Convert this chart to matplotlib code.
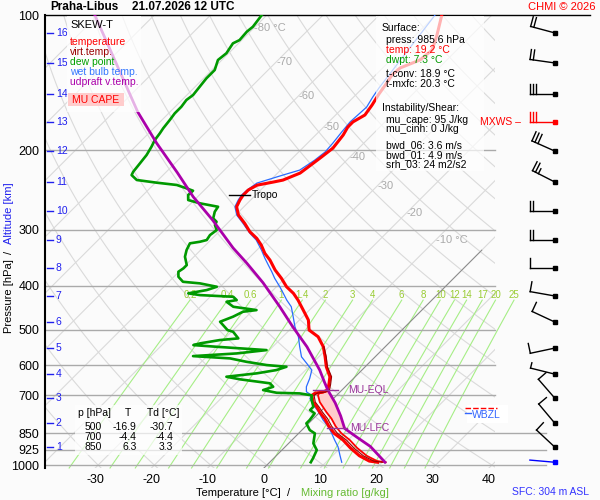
import numpy as np
import matplotlib
matplotlib.use("Agg")
import matplotlib.pyplot as plt
from matplotlib.patches import Rectangle, Polygon
from matplotlib.ticker import NullLocator

plt.rcParams["font.family"] = ["Liberation Sans", "DejaVu Sans"]
plt.rcParams["axes.unicode_minus"] = False

# ---- sounding (hPa, deg C) ----
t_p = [100.0, 110.8, 119.6, 125.9, 131.1, 135.9, 143.0, 150.3, 158.5, 166.8,
       172.8, 177.4, 184.8, 197.6, 207.7, 218.8, 224.5, 232.7, 235.1, 238.8,
       244.9, 251.3, 257.8, 266.7, 278.3, 290.4, 303.1, 313.5, 324.5, 338.5,
       350.3, 368.7, 384.7, 401.6, 415.4, 429.9, 452.4, 476.2, 501.2, 518.7,
       545.9, 574.6, 604.9, 636.4, 662.1, 681.3, 688.3, 691.8, 700.0, 724.4,
       743.5, 763.1, 788.1, 819.6, 850.0, 879.9, 916.0, 953.6, 979.8, 985.6]
t_c = [-48.9, -46.2, -44.4, -44.8, -46.9, -47.1, -46.5, -46.0, -45.3, -44.8,
       -45.7, -45.7, -45.1, -44.6, -45.1, -45.7, -46.0, -47.8, -49.2, -51.5,
       -52.2, -52.2, -51.9, -51.3, -49.5, -46.9, -44.5, -42.1, -40.1, -38.0,
       -35.9, -33.2, -30.6, -28.2, -25.8, -23.8, -21.1, -18.4, -16.5, -13.7,
       -11.0, -8.9, -6.9, -4.5, -3.3, -2.6, -3.0, -4.2, -4.4, -3.0,
       -1.4, 0.0, 2.0, 4.1, 6.3, 9.1, 11.8, 14.8, 17.5, 19.2]

tv_p = [545.9, 574.6, 604.9, 636.4, 662.1, 681.3, 688.3, 691.8, 700.0, 724.4,
        743.5, 763.1, 788.1, 819.6, 850.0, 879.9, 916.0, 953.6, 979.8, 985.6]
tv_c = [-10.9, -8.7, -6.7, -4.2, -3.0, -2.2, -2.6, -3.8, -4.0, -2.6,
        -1.0, 0.5, 2.5, 4.6, 6.9, 9.7, 12.4, 15.5, 18.3, 20.0]

# red edge of the MU parcel area
ol_p = [985.6, 979.8, 953.6, 916.0, 879.9, 850.0, 819.6, 788.1, 763.1, 743.5,
        724.4, 700.0, 693.0, 684.0]
ol_c = [20.6, 18.9, 16.1, 13.0, 10.3, 7.6, 5.3, 3.2, 1.2, -0.3,
        -1.8, -3.3, -3.5, -2.2]

td_p = [100.0, 106.2, 108.9, 113.7, 115.6, 121.6, 125.9, 132.5, 138.2, 144.3,
        150.6, 154.5, 159.9, 165.4, 171.1, 178.5, 183.2, 189.6, 196.2, 204.7,
        213.6, 223.0, 226.8, 232.6, 235.8, 238.6, 242.7, 245.7, 251.2, 257.7,
        262.1, 266.7, 273.6, 283.0, 288.0, 292.9, 300.5, 308.3, 316.2, 319.0,
        321.6, 332.8, 344.4, 359.4, 365.5, 371.9, 381.6, 391.5, 394.7, 401.6,
        408.4, 415.4, 419.1, 422.7, 429.9, 433.7, 444.9, 452.5, 456.3, 468.1,
        480.3, 501.2, 505.6, 523.0, 527.5, 536.5, 541.2, 545.9, 555.3, 564.8,
        572.6, 579.4, 589.5, 599.5, 604.7, 615.0, 625.4, 636.4, 644.9, 658.1,
        669.9, 681.3, 690.8, 693.0, 700.0, 717.1, 742.0, 754.7, 767.5, 794.3,
        807.8, 836.0, 850.4, 894.8, 926.1, 966.2, 985.6]
td_c = [-80.9, -80.4, -80.6, -80.4, -81.0, -80.4, -80.7, -79.5, -79.5, -79.2,
        -78.9, -79.2, -78.9, -78.9, -78.6, -78.3, -78.0, -77.7, -77.1, -76.5,
        -76.2, -75.9, -75.6, -73.8, -69.8, -65.8, -63.5, -61.9, -62.0, -61.1,
        -58.4, -54.6, -54.3, -53.4, -52.2, -51.9, -50.7, -51.0, -50.7, -51.6,
        -53.1, -52.5, -51.6, -49.8, -49.8, -50.1, -49.2, -47.5, -44.2, -40.6,
        -41.8, -44.5, -42.1, -35.9, -34.7, -36.2, -34.1, -29.4, -31.5, -32.4,
        -33.8, -31.0, -29.7, -27.6, -30.6, -33.5, -34.4, -30.0, -20.5, -25.2,
        -32.5, -25.5, -22.0, -17.8, -14.0, -15.2, -18.1, -22.9, -20.0, -14.0,
        -12.8, -14.0, -11.1, -6.9, -4.4, -3.6, -2.1, -2.1, -0.7, -0.4,
        -0.4, 1.4, 2.9, 4.4, 6.2, 7.0, 7.3]

tw_p = [100.0, 145.3, 152.1, 160.2, 172.8, 182.0, 192.7, 201.6, 210.1, 221.1,
        226.8, 236.3, 244.9, 251.3, 257.8, 266.7, 278.3, 290.4, 305.6, 316.2,
        332.8, 347.2, 359.4, 371.9, 384.7, 401.6, 415.4, 429.9, 444.9, 468.1,
        492.8, 518.7, 545.9, 574.6, 594.3, 615.0, 641.7, 669.9, 687.3, 700.0,
        710.9, 735.6, 761.3, 794.3, 821.6, 850.4, 879.9, 910.7, 950.1, 985.6]
tw_c = [-50.1, -47.1, -46.6, -45.9, -46.2, -45.9, -45.5, -45.3, -45.7, -46.6,
        -48.7, -51.9, -52.4, -52.5, -52.2, -51.6, -49.8, -47.2, -44.2, -41.9,
        -39.2, -37.1, -35.3, -33.5, -31.8, -29.4, -27.6, -25.8, -23.8, -21.7,
        -19.6, -17.2, -15.2, -13.1, -11.0, -8.9, -7.8, -6.9, -6.0, -4.4,
        -4.2, -2.4, -0.3, 2.0, 4.1, 5.9, 7.6, 9.4, 11.2, 12.8]

pc_p = [100.0, 164.3, 192.7, 224.0, 253.4, 285.5, 329.3, 355.7, 393.4, 445.2,
        493.6, 546.0, 615.0, 657.0, 681.3, 727.6, 778.0, 829.0, 866.6, 909.3, 985.6]
pc_c = [-110.6, -85.7, -76.8, -67.9, -60.8, -53.2, -44.6, -39.5, -33.1, -25.8,
        -19.9, -13.9, -7.5, -4.3, -2.5, 1.1, 4.4, 7.3, 11.0, 15.1, 20.5]

eql_p, eql_t = 681.3, -2.5
lfc_p, lfc_t = 829.0, 7.3
trop_p, trop_t = 251.3, -52.2
fzl_p, wbzl_p = 748.3, 767.5

alt_km = list(range(1, 17))
alt_p = [912, 807, 710, 628, 549.6, 481, 421, 365, 316, 272.5,
         235, 200.6, 172.8, 149.8, 127.8, 109.6]

# wind: surface first, then every km
wind_p = [985.6] + alt_p
wind_dir = [275, 313, 320, 319, 284, 258, 295, 280, 270, 270, 270,
            297, 294, 270, 270, 278, 285]
wind_kt = [2, 10, 10, 10, 5, 10, 10, 10, 10, 20, 20, 25, 30, 30, 30, 20, 20]
mxws_km = 13

p_ticks = [100, 200, 300, 400, 500, 600, 700, 850, 925, 1000]
t_ticks = [-30, -20, -10, 0, 10, 20, 30, 40]
mix_w = [0.2, 0.4, 0.6, 1, 1.4, 2, 3, 4, 6, 8, 10, 12, 14, 17, 20, 25]
mix_lab = ["0.2", "0.4", "0.6", "1", "1.4", "2", "3", "4", "6", "8",
           "10", "12", "14", "17", "20", "25"]
iso_lab_t = [-80, -70, -60, -50, -40, -30, -20, -10]
iso_lab_p = [106.9, 127.2, 151.4, 177.4, 206.7, 239.8, 275.6, 316.2]

SKEW = 80.0
P_BOT, P_TOP = 1015.0, 100.0
X_MIN, X_MAX = -38.93, 41.07
BG = "#fbfbfb"
RED, DRED, GREEN, BLUE, PURP = "#ff0000", "#990000", "#009900", "#2a6cff", "#aa00aa"
MARK = "#993399"


def skx(t, p):
    return np.asarray(t, float) + SKEW * np.log10(P_BOT / np.asarray(p, float))


fig = plt.figure(figsize=(6, 5), dpi=100, facecolor=BG)
ax = fig.add_axes([45 / 600, 1 - 468 / 500, 450 / 600, 453 / 500])
ax.set_facecolor(BG)
ax.set_yscale("log")
ax.set_ylim(P_BOT, P_TOP)
ax.set_xlim(X_MIN, X_MAX)
for s in ("top", "right", "bottom"):
    ax.spines[s].set_visible(False)
ax.spines["left"].set_linewidth(1.5)
ax.set_yticks(p_ticks)
ax.set_yticklabels([str(p) for p in p_ticks])
ax.yaxis.set_minor_locator(NullLocator())
ax.set_xticks(t_ticks)
ax.set_xticklabels([str(t) for t in t_ticks])
ax.tick_params(length=0, labelsize=9, pad=4)

# background grid: isotherms, dry adiabats, mixing ratio
pp = np.logspace(np.log10(P_BOT), np.log10(P_TOP), 80)
for t in range(-130, 50, 10):
    ax.plot(skx([t, t], [P_BOT, P_TOP]), [P_BOT, P_TOP], color="#dadada", lw=0.8, zorder=1)
for th in range(-40, 200, 10):
    ta = (th + 273.15) * (pp / 1000.0) ** 0.2857 - 273.15
    ax.plot(skx(ta, pp), pp, color="#dadada", lw=0.8, zorder=1)
pm = np.logspace(np.log10(P_BOT), np.log10(430), 30)
for w, lab in zip(mix_w, mix_lab):
    e = w * pm / (622.0 + w)
    a = np.log(e / 6.112)
    td = 243.5 * a / (17.67 - a)
    ax.plot(skx(td, pm), pm, color="#a6ee86", lw=0.8, zorder=1, clip_on=False)
    ax.text(skx(td[-1], 430), 419, lab, color="#99cc33", fontsize=7,
            ha="center", va="center", zorder=2)

for p in p_ticks[1:]:
    xe = 50.1 if p >= 850 else X_MAX
    ax.plot([X_MIN, xe], [p, p], color="#aaaaaa", lw=1, zorder=2, clip_on=False)
ax.plot([X_MIN, 57.96], [P_TOP, P_TOP], color="black", lw=1, zorder=2, clip_on=False)
ax.plot(skx([0, 0], [P_BOT, 333]), [P_BOT, 333], color="#888888", lw=0.7, zorder=2)

for t, p in zip(iso_lab_t, iso_lab_p):
    lab = f"{t} °C" if t in (-80, -10) else str(t)
    ax.text(skx(t, p), p, lab, color="#aaaaaa", fontsize=8, ha="left", va="center", zorder=2)

# MU CAPE area between parcel and environment edge
pc_pa, pc_ca = np.array(pc_p), np.array(pc_c)
ol_pa, ol_ca = np.array(ol_p), np.array(ol_c)
m1 = (pc_pa >= eql_p) & (pc_pa <= lfc_p)
m2 = (ol_pa >= eql_p) & (ol_pa <= lfc_p)
verts = np.vstack([np.column_stack([skx(pc_ca[m1], pc_pa[m1]), pc_pa[m1]]),
                   np.column_stack([skx(ol_ca[m2], ol_pa[m2]), ol_pa[m2]])])
ax.add_patch(Polygon(verts, closed=True, facecolor="#ffcccc", edgecolor="none", zorder=3))

# profiles
ax.plot(skx(tw_c, tw_p), tw_p, color=BLUE, lw=0.9, zorder=4)
ax.plot(skx(ol_c, ol_p), ol_p, color=RED, lw=1.3, zorder=5)
ax.plot(skx(t_c, t_p), t_p, color=RED, lw=2.2, zorder=5)
ax.plot(skx(tv_c, tv_p), tv_p, color=DRED, lw=0.8, zorder=6)
ax.plot(skx(td_c, td_p), td_p, color=GREEN, lw=1.9, zorder=5)
ax.plot(skx(pc_c, pc_p), pc_p, color=PURP, lw=2.0, zorder=5)

# level markers
xe = skx(eql_t, eql_p)
ax.plot([xe - 2.7, xe + 1.8], [eql_p, eql_p], color=MARK, lw=1, zorder=6)
ax.text(xe + 3.6, eql_p, "MU-EQL", color=MARK, fontsize=7.5, va="center", zorder=6)
xl = skx(lfc_t, lfc_p)
ax.plot([xl - 3.1, xl + 0.4], [lfc_p, lfc_p], color=MARK, lw=1, zorder=6)
ax.text(xl + 1.0, lfc_p, "MU-LFC", color=MARK, fontsize=7.5, va="center", zorder=6)
xt = skx(trop_t, trop_p)
ax.plot([xt - 2.5, xt + 1.2], [trop_p, trop_p], color="black", lw=1, zorder=6)
ax.text(xt + 1.5, trop_p, "Tropo", color="black", fontsize=7.5, va="center", zorder=6)

# altitude scale
ytr = ax.get_yaxis_transform()
for km, p in zip(alt_km, alt_p):
    ax.plot([0.004, 0.018], [p, p], color="#2020ee", lw=1, transform=ytr, zorder=6)
    ax.text(0.024, p, str(km), color="#2020ee", fontsize=7.5, transform=ytr,
            ha="left", va="center", zorder=6)

# overlay in pixel units (y down) for boxes, texts and barbs
ov = fig.add_axes([0, 0, 1, 1])
ov.set_xlim(0, 600)
ov.set_ylim(500, 0)
ov.axis("off")


def px_of(x, p):
    xd, yd = ax.transData.transform((x, p))
    return xd, 500 - yd


for x0, y0, w, h in [(67, 16, 74, 96), (376, 16, 108, 155), (75, 405, 107, 50)]:
    ov.add_patch(Rectangle((x0, y0), w, h, facecolor="white", edgecolor="none", alpha=0.7))

fs = 7.5
ov.text(50, 7, "Praha-Libus", fontsize=8.5, fontweight="bold", va="center")
ov.text(132, 7, "21.07.2026 12 UTC", fontsize=8.5, fontweight="bold", va="center")
ov.text(596, 7, "CHMI © 2026", fontsize=8, color=RED, ha="right", va="center")

ov.text(70, 25, "SKEW-T", fontsize=8, va="center")
for y, s, c in [(42, "temperature", RED), (52, "virt.temp.", DRED), (62, "dew point", "#00a000"),
                (72, "wet bulb temp.", "#3377ff"), (82, "udpraft v.temp.", PURP)]:
    ov.text(70, y, s, fontsize=fs, color=c, va="center")
ov.add_patch(Rectangle((68, 93), 56, 13, facecolor="#ffcccc", edgecolor="none"))
ov.text(96, 100, "MU CAPE", fontsize=fs, color=RED, ha="center", va="center")

info = [(382, 27.7, "Surface:", "black"), (386, 40, "press: 985.6 hPa", "black"),
        (386, 50, "temp: 19.2 °C", RED), (386, 60, "dwpt: 7.3 °C", GREEN),
        (386, 74.3, "t-conv: 18.9 °C", "black"), (386, 84.3, "t-mxfc: 20.3 °C", "black"),
        (382, 108.3, "Instability/Shear:", "black"), (386, 120, "mu_cape: 95 J/kg", "black"),
        (386, 129.3, "mu_cinh: 0 J/kg", "black"), (386, 145, "bwd_06: 3.6 m/s", "black"),
        (386, 155, "bwd_01: 4.9 m/s", "black"), (386, 164.3, "srh_03: 24 m2/s2", "black")]
for x, y, s, c in info:
    ov.text(x, y, s, fontsize=fs, color=c, va="center")

ov.text(78, 413.3, "p [hPa]", fontsize=fs, va="center")
ov.text(127.7, 413.3, "T", fontsize=fs, ha="center", va="center")
ov.text(146.7, 413.3, "Td [°C]", fontsize=fs, va="center")
for y, row in zip([426.7, 436.7, 446.7], [("500", "-16.9", "-30.7"), ("700", "-4.4", "-4.4"),
                                          ("850", "6.3", "3.3")]):
    for x, s in zip([101.7, 136.7, 173.3], row):
        ov.text(x, y, s, fontsize=fs, ha="right", va="center")

ov.text(9, 213, "Altitude [km]", fontsize=8, color="#2020ee", rotation=90, ha="center", va="center")
ov.text(9, 252, "/", fontsize=8, rotation=90, ha="center", va="center")
ov.text(9, 296, "Pressure [hPa]", fontsize=8, rotation=90, ha="center", va="center")
ov.text(238, 493, "Temperature [°C]", fontsize=8, ha="center", va="center")
ov.text(289, 493, "/", fontsize=8, ha="center", va="center")
ov.text(345, 493, "Mixing ratio [g/kg]", fontsize=8, color="#66bb33", ha="center", va="center")
ov.text(551, 492, "SFC: 304 m ASL", fontsize=fs, color="#3333ff", ha="center", va="center")

# freezing / wet-bulb zero levels
_, yf = px_of(0, fzl_p)
_, yw = px_of(0, wbzl_p)
ov.add_patch(Rectangle((467, 405), 41, 18, facecolor="white", edgecolor="none"))
ov.plot([465, 497], [yf, yf], color=RED, lw=1, ls=(0, (4, 1.5)))
ov.plot([465, 471], [yw, yw], color="#3366ff", lw=1)
ov.text(472, yw + 1.5, "WBZL", fontsize=fs, color="#3366ff", va="center")

# wind barbs
STAFF, GAP, FULL, HALF = 25.0, 3.3, 10.0, 5.5
BARB_X = 51.7


def barb(x0, y0, wdir, spd, color):
    r = np.deg2rad(wdir)
    sx, sy = np.sin(r), -np.cos(r)
    bx, by = np.cos(r), np.sin(r)
    ex, ey = x0 + STAFF * sx, y0 + STAFF * sy
    ov.plot([x0, ex], [y0, ey], color=color, lw=1)
    n_full, half = int(spd // 10), (spd % 10) >= 5
    k = 0
    for _ in range(n_full):
        qx, qy = ex - k * GAP * sx, ey - k * GAP * sy
        ov.plot([qx, qx + FULL * bx], [qy, qy + FULL * by], color=color, lw=1)
        k += 1
    if half:
        qx, qy = ex - k * GAP * sx, ey - k * GAP * sy
        ov.plot([qx, qx + HALF * bx], [qy, qy + HALF * by], color=color, lw=1)
    ov.plot([x0], [y0], marker="s", ms=2.3, color=color)


for i, (p, d, s) in enumerate(zip(wind_p, wind_dir, wind_kt)):
    x0, y0 = px_of(BARB_X, p)
    if i == 0:
        col = "#0000ff"
    elif alt_km[i - 1] == mxws_km:
        col = RED
        ov.text(521, y0, "MXWS –", fontsize=fs, color=RED, ha="right", va="center")
    else:
        col = "black"
    barb(x0, y0, d, s, col)

fig.savefig("out.png", dpi=100, facecolor=BG)
